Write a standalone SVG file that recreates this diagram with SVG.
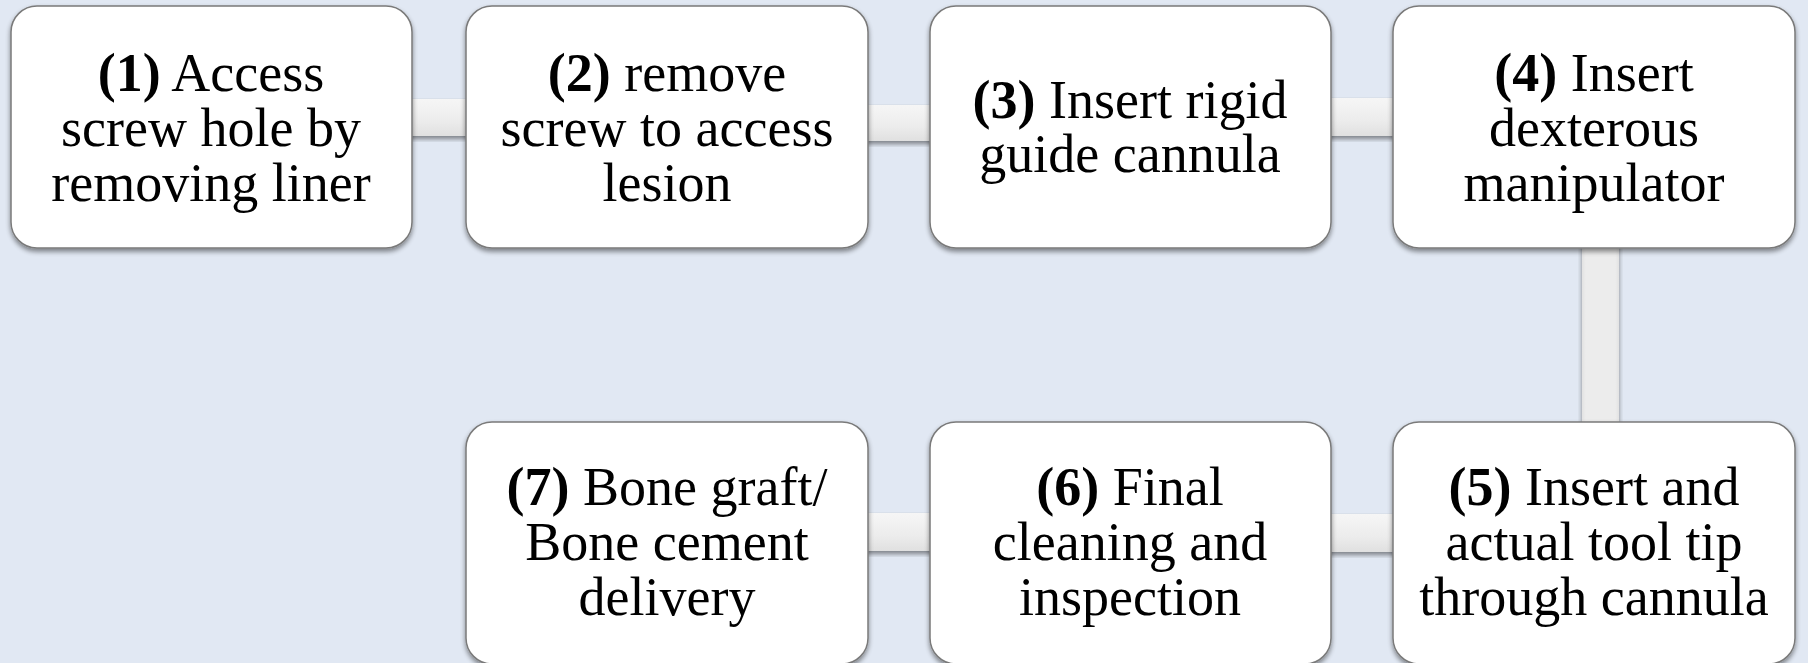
<svg xmlns="http://www.w3.org/2000/svg" width="1808" height="663" viewBox="0 0 1808 663">
<style>
.box{fill:#ffffff;stroke:#7a7a7a;stroke-width:1.5}
.lbl{font-family:"Liberation Serif","Times New Roman",serif;font-size:54px;fill:#000000;text-anchor:middle}
.num{font-weight:bold}
.hbar{fill:url(#hg)}
.vbar{fill:url(#vg)}
</style>
<defs>
<linearGradient id="hg" x1="0" y1="0" x2="0" y2="1">
<stop offset="0" stop-color="#f6f6f6"/>
<stop offset="0.6" stop-color="#ececec"/>
<stop offset="1" stop-color="#e0e0e0"/>
</linearGradient>
<linearGradient id="vg" x1="0" y1="0" x2="1" y2="0">
<stop offset="0" stop-color="#e2e2e2"/>
<stop offset="0.1" stop-color="#ececec"/>
<stop offset="0.9" stop-color="#ececec"/>
<stop offset="1" stop-color="#e2e2e2"/>
</linearGradient>
<filter id="sh" x="-10%" y="-10%" width="120%" height="125%">
<feGaussianBlur in="SourceAlpha" stdDeviation="2.5"/>
<feOffset dx="0" dy="3" result="b"/>
<feComponentTransfer><feFuncA type="linear" slope="0.45"/></feComponentTransfer>
<feMerge><feMergeNode/><feMergeNode in="SourceGraphic"/></feMerge>
</filter>
</defs>
<rect x="0" y="0" width="1808" height="663" fill="#e1e8f3"/>
<g id="connectors">
<rect class="hbar" x="300" y="99" width="260" height="37" filter="url(#sh)"/>
<rect class="hbar" x="760" y="105" width="260" height="36" filter="url(#sh)"/>
<rect class="hbar" x="1220" y="98" width="260" height="38" filter="url(#sh)"/>
<rect class="vbar" x="1582" y="200" width="37" height="260" filter="url(#sh)"/>
<rect class="hbar" x="1220" y="514" width="260" height="38" filter="url(#sh)"/>
<rect class="hbar" x="760" y="513" width="260" height="38" filter="url(#sh)"/>
</g>
<g id="node1">
<rect class="box" x="11" y="6" width="401" height="242" rx="26" filter="url(#sh)"/>
<text class="lbl"><tspan x="211" y="91"><tspan class="num">(1)</tspan> Access</tspan><tspan x="211" y="146">screw hole by</tspan><tspan x="211" y="201">removing liner</tspan></text>
</g>
<g id="node2">
<rect class="box" x="466" y="6" width="402" height="242" rx="26" filter="url(#sh)"/>
<text class="lbl"><tspan x="667" y="91"><tspan class="num">(2)</tspan> remove</tspan><tspan x="667" y="146">screw to access</tspan><tspan x="667" y="201">lesion</tspan></text>
</g>
<g id="node3">
<rect class="box" x="930" y="6" width="401" height="242" rx="26" filter="url(#sh)"/>
<text class="lbl"><tspan x="1130" y="118"><tspan class="num">(3)</tspan> Insert rigid</tspan><tspan x="1130" y="172">guide cannula</tspan></text>
</g>
<g id="node4">
<rect class="box" x="1393" y="6" width="402" height="242" rx="26" filter="url(#sh)"/>
<text class="lbl"><tspan x="1594" y="91"><tspan class="num">(4)</tspan> Insert</tspan><tspan x="1594" y="146">dexterous</tspan><tspan x="1594" y="201">manipulator</tspan></text>
</g>
<g id="node5">
<rect class="box" x="1393" y="422" width="402" height="242" rx="26" filter="url(#sh)"/>
<text class="lbl"><tspan x="1594" y="505"><tspan class="num">(5)</tspan> Insert and</tspan><tspan x="1594" y="560">actual tool tip</tspan><tspan x="1594" y="615">through cannula</tspan></text>
</g>
<g id="node6">
<rect class="box" x="930" y="422" width="401" height="242" rx="26" filter="url(#sh)"/>
<text class="lbl"><tspan x="1130" y="505"><tspan class="num">(6)</tspan> Final</tspan><tspan x="1130" y="560">cleaning and</tspan><tspan x="1130" y="615">inspection</tspan></text>
</g>
<g id="node7">
<rect class="box" x="466" y="422" width="402" height="242" rx="26" filter="url(#sh)"/>
<text class="lbl"><tspan x="667" y="505"><tspan class="num">(7)</tspan> Bone graft/</tspan><tspan x="667" y="560">Bone cement</tspan><tspan x="667" y="615">delivery</tspan></text>
</g>
</svg>
